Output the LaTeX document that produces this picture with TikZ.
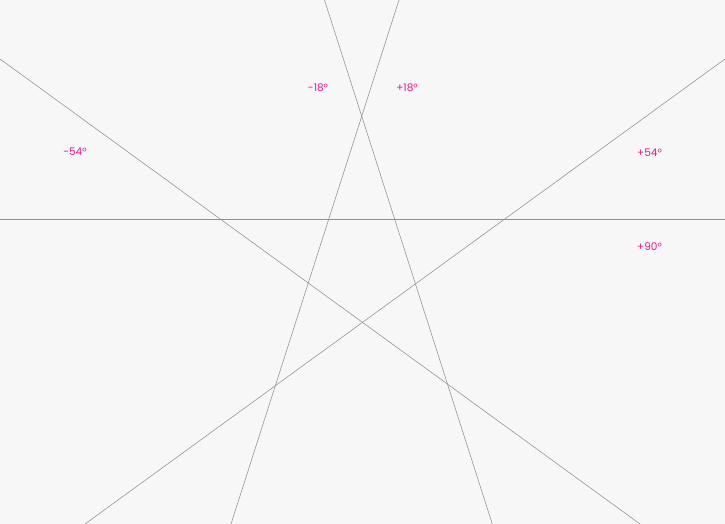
\documentclass[tikz,border=0pt]{standalone}
\usepackage{fontspec}
\setmainfont{Poppins}
\definecolor{bgcol}{HTML}{F7F7F7}
\definecolor{linecol}{HTML}{909090}
\definecolor{anglecol}{HTML}{F0148C}
\begin{document}
\begin{tikzpicture}[x=1pt, y=-1pt,
    ray/.style={draw=linecol, line width=0.55pt},
    angle/.style={text=anglecol, font=\fontsize{10.5}{12}\selectfont, inner sep=0pt}]
    \fill[bgcol] (0,0) rectangle (725,524);
    \useasboundingbox (0,0) rectangle (725,524);
    % end points of the five lines
    \coordinate (h0) at (0,219.5);   \coordinate (h1) at (725,219.5);
    \coordinate (m54a) at (0,59);    \coordinate (m54b) at (640,524);
    \coordinate (p54a) at (725,59);  \coordinate (p54b) at (85,524);
    \coordinate (m18a) at (324.5,0); \coordinate (m18b) at (492.3,524);
    \coordinate (p18a) at (399,0);   \coordinate (p18b) at (231,524);
    \draw[ray] (h0) -- (h1);
    \draw[ray] (m54a) -- (m54b);
    \draw[ray] (p54a) -- (p54b);
    \draw[ray] (m18a) -- (m18b);
    \draw[ray] (p18a) -- (p18b);
    % labels
    \node[angle] (lm54) at (75,152) {-54°};
    \node[angle] (lm18) at (318,88) {-18°};
    \node[angle] (lp18) at (407,88) {+18°};
    \node[angle] (lp54) at (649.5,152.5) {+54°};
    \node[angle] (lp90) at (649.5,247) {+90°};
\end{tikzpicture}
\end{document}
